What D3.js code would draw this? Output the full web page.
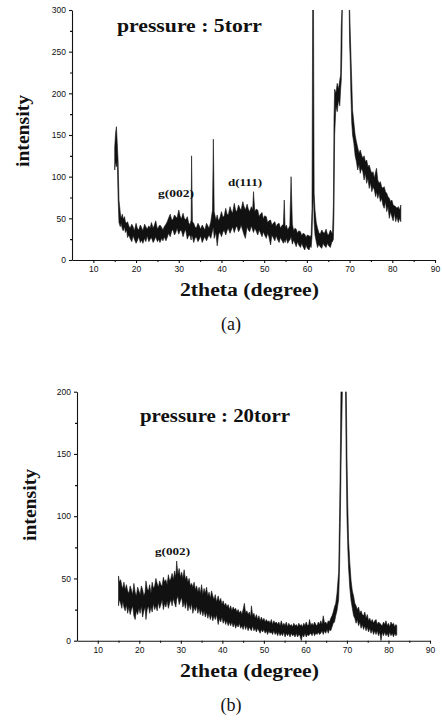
<!DOCTYPE html>
<html>
<head>
<meta charset="utf-8">
<script src="https://cdn.jsdelivr.net/npm/d3@7"></script>
<style>
  body { margin: 0; background: #fff; }
  svg { display: block; }
  .tick text { font-family: "Liberation Sans", Arial, sans-serif; font-size: 8.5px; fill: #111; }
  .domain, .tick line { stroke: #111; stroke-width: 1.1; }
  .bold { font-family: "Liberation Serif", "Times New Roman", serif; font-weight: bold; fill: #111; }
  .plain { font-family: "Liberation Serif", "Times New Roman", serif; fill: #111; }
</style>
</head>
<body>
<svg id="fig" width="442" height="724"></svg>
<script>
// ---- data: [2theta, lower edge, upper edge] of the noisy trace ----
const traceA = [
  [15.0,108,135],[15.2,118,152],[15.4,112,160],[15.6,120,140],[15.8,74,118],[16.0,45,72],
  [16.3,40,57],[16.5,44,50],[16.8,37,55],[17.0,35,49],[17.3,40,52],[17.5,33,46],[17.8,36,44],
  [18.0,27,46],[18.3,30,41],[18.6,26,38],[19.0,22,43],[19.3,29,40],[19.6,25,35],[20.0,20,44],
  [20.3,23,38],[20.6,28,36],[21.0,21,42],[21.3,24,39],[21.6,20,35],[22.0,26,43],[22.3,22,40],
  [22.6,29,37],[23.0,22,41],[23.3,25,38],[23.6,27,45],[24.0,21,38],[24.3,24,42],[24.6,28,47],
  [25.0,22,37],[25.3,25,40],[25.6,21,42],[26.0,26,39],[26.3,23,36],[26.6,28,40],[27.0,23,43],
  [27.3,27,46],[27.6,32,50],[28.0,28,55],[28.3,34,49],[28.6,37,48],[29.0,30,54],[29.3,33,52],
  [29.6,38,50],[30.0,31,60],[30.3,35,53],[30.6,36,49],[31.0,28,56],[31.3,33,50],[31.6,37,48],
  [32.0,25,52],[32.3,29,45],[32.6,30,42],[32.9,24,48],[33.0,30,125],[33.2,28,46],[33.5,21,44],
  [33.8,26,40],[34.1,28,38],[34.5,22,44],[34.8,25,41],[35.1,29,37],[35.5,21,42],[35.8,25,39],
  [36.1,28,36],[36.5,23,44],[36.8,27,41],[37.1,30,38],[37.5,26,46],[37.9,35,60],[38.1,40,145],
  [38.3,26,58],[38.7,33,48],[39.0,17,54],[39.3,30,47],[39.6,34,50],[40.0,28,58],[40.3,33,52],
  [40.6,36,52],[41.0,30,62],[41.3,35,55],[41.6,38,54],[42.0,32,64],[42.3,36,59],[42.6,40,56],
  [43.0,33,68],[43.3,38,60],[43.6,41,58],[44.0,34,66],[44.3,37,62],[44.6,42,60],[45.0,35,70],
  [45.3,30,64],[45.6,26,60],[46.0,40,67],[46.3,36,61],[46.6,34,58],[47.0,41,64],[47.3,36,60],
  [47.5,33,82],[47.8,38,58],[48.1,35,61],[48.5,30,60],[48.8,36,52],[49.1,33,55],[49.5,28,57],
  [49.8,34,49],[50.1,30,53],[50.5,26,52],[50.8,32,45],[51.1,28,47],[51.5,18,48],[51.8,30,42],
  [52.1,27,44],[52.5,23,46],[52.8,29,40],[53.1,25,43],[53.5,21,44],[53.8,27,38],[54.1,24,41],
  [54.5,20,43],[54.7,24,72],[54.9,21,39],[55.2,26,42],[55.5,20,36],[55.8,23,39],[56.0,24,41],
  [56.3,28,100],[56.6,19,43],[56.9,24,35],[57.2,20,38],[57.5,16,37],[57.8,22,32],[58.1,18,35],
  [58.5,15,34],[58.8,20,29],[59.1,16,32],[59.5,12,31],[59.8,18,27],[60.1,14,30],[60.5,12,29],
  [60.8,17,28],[61.0,15,30],[61.2,28,62],[61.35,60,300],[61.55,80,300],[61.7,45,80],[61.9,30,60],
  [62.2,22,45],[62.5,15,38],[62.8,19,33],[63.1,16,31],[63.5,14,36],[63.8,20,33],[64.1,17,32],
  [64.5,15,37],[64.8,20,31],[65.1,17,30],[65.5,15,36],[65.8,21,33],[66.0,22,32],
  [66.2,25,65],[66.35,60,170],[66.5,150,205],[66.8,185,200],[67.1,178,212],[67.4,192,205],
  [67.7,185,216],[67.9,205,222],[68.05,215,280],[68.2,250,300],[68.3,305,330],[69.9,305,330],
  [70.0,260,305],[70.15,240,275],[70.3,200,248],[70.5,165,215],[70.7,150,180],[71.0,140,165],
  [71.3,125,150],[71.6,118,142],[71.9,108,135],[72.2,115,128],[72.5,104,132],[72.8,110,126],
  [73.1,106,122],[73.4,96,125],[73.7,104,118],[74.0,92,120],[74.3,98,112],[74.6,86,114],
  [74.9,93,108],[75.2,82,104],[75.5,88,106],[75.8,84,98],[76.1,76,106],[76.3,82,110],
  [76.6,74,96],[76.9,80,92],[77.2,70,94],[77.5,74,88],[77.8,66,86],[78.1,62,88],[78.4,70,82],
  [78.7,58,80],[79.0,64,76],[79.3,50,74],[79.6,58,70],[79.9,52,72],[80.2,47,66],[80.5,56,65],
  [80.8,46,64],[81.1,52,62],[81.4,45,64],[81.7,50,60],[82.0,46,66]
];

const traceB = [
  [15.0,28,52],[15.2,33,47],[15.5,30,49],[15.8,26,44],[16.0,32,42],[16.3,27,47],[16.6,24,41],
  [16.9,29,45],[17.2,22,40],[17.5,27,38],[17.8,21,44],[18.1,25,41],[18.4,28,37],[18.7,20,46],
  [19.0,17,39],[19.3,24,36],[19.6,21,43],[19.9,26,40],[20.2,22,37],[20.5,28,44],[20.8,19,41],
  [21.1,24,36],[21.4,27,39],[21.6,17,48],[21.9,25,42],[22.2,28,40],[22.5,22,45],[22.8,27,38],
  [23.1,23,47],[23.4,30,42],[23.7,25,44],[24.0,28,50],[24.3,24,46],[24.6,31,43],[24.9,26,48],
  [25.2,29,45],[25.5,33,44],[25.8,25,51],[26.1,30,47],[26.4,27,49],[26.7,32,45],[27.0,26,53],
  [27.3,30,48],[27.6,33,50],[27.9,28,54],[28.2,34,49],[28.5,30,56],[28.8,27,51],[29.0,33,64],
  [29.3,36,53],[29.6,29,58],[29.9,32,51],[30.2,35,55],[30.5,27,50],[30.8,31,57],[31.1,26,49],
  [31.4,32,52],[31.7,24,47],[32.0,29,50],[32.3,25,44],[32.6,30,46],[32.9,22,43],[33.2,27,47],
  [33.5,24,41],[33.8,28,44],[34.1,22,39],[34.4,26,43],[34.7,21,38],[35.0,25,45],[35.3,20,37],
  [35.6,24,42],[35.9,19,38],[36.2,23,43],[36.5,18,36],[36.8,22,39],[37.1,17,34],[37.4,21,40],
  [37.7,16,36],[38.0,20,33],[38.3,17,37],[38.6,21,31],[39.0,13,36],[39.3,18,31],[39.6,15,34],
  [39.9,19,29],[40.2,14,32],[40.5,17,28],[40.8,13,30],[41.1,16,27],[41.4,12,29],[41.7,15,25],
  [42.0,12,28],[42.3,15,24],[42.6,11,27],[42.9,14,25],[43.2,10,26],[43.5,13,23],[43.8,11,25],
  [44.1,14,22],[44.4,10,24],[44.7,12,21],[45.0,9,25],[45.3,13,30],[45.6,9,22],[45.9,12,24],
  [46.2,8,21],[46.5,11,23],[46.8,9,19],[47.0,8,28],[47.3,12,20],[47.6,8,22],[47.9,10,18],
  [48.2,7,21],[48.5,10,17],[48.8,8,20],[49.1,6,16],[49.4,9,19],[49.7,7,16],[50.0,9,18],
  [50.3,6,15],[50.6,8,17],[50.9,5,15],[51.2,8,16],[51.5,6,14],[51.8,7,17],[52.1,5,13],
  [52.4,8,16],[52.7,5,14],[53.0,7,15],[53.3,4,13],[53.6,7,15],[53.9,4,12],[54.2,6,16],
  [54.5,4,12],[54.8,7,14],[55.1,3,12],[55.4,6,15],[55.7,4,11],[56.0,6,14],[56.3,3,12],
  [56.6,6,13],[56.9,4,11],[57.2,5,14],[57.5,3,12],[57.8,6,13],[58.1,3,11],[58.4,5,14],
  [58.7,4,12],[59.0,0,13],[59.3,5,11],[59.6,3,14],[59.9,6,12],[60.2,3,15],[60.5,5,12],
  [60.8,4,13],[61.0,5,17],[61.3,6,12],[61.6,4,14],[61.9,7,12],[62.2,4,15],[62.5,6,13],
  [62.8,5,12],[63.1,7,15],[63.4,5,13],[63.7,6,16],[64.0,8,13],[64.3,5,20],[64.6,8,14],
  [64.9,6,15],[65.2,9,13],[65.5,6,16],[65.8,9,15],[66.1,8,18],[66.4,11,20],[66.7,14,23],
  [67.0,15,27],[67.3,20,30],[67.6,24,38],[68.0,33,55],[68.2,55,95],[68.4,95,145],
  [68.6,145,215],[69.0,220,240],[69.6,220,240],[69.8,150,215],[70.0,100,150],[70.2,75,108],
  [70.4,58,80],[70.7,42,62],[71.0,32,48],[71.3,26,40],[71.6,20,36],[71.9,18,30],[72.2,14,28],
  [72.5,17,25],[72.8,12,27],[73.1,15,22],[73.4,10,24],[73.7,13,21],[74.0,9,20],[74.3,12,23],
  [74.6,8,18],[74.9,11,21],[75.2,7,16],[75.5,10,18],[75.8,6,15],[76.1,9,17],[76.4,5,14],
  [76.7,8,16],[77.0,5,17],[77.3,8,13],[77.6,4,15],[77.9,7,14],[78.2,0,13],[78.5,7,12],
  [78.8,4,15],[79.1,7,13],[79.4,4,16],[79.7,6,12],[80.0,3,14],[80.3,7,11],[80.6,4,15],
  [80.9,6,13],[81.2,3,14],[81.5,6,11],[81.8,4,13],[82.0,5,12]
];

const xTicks = [10, 20, 30, 40, 50, 60, 70, 80, 90];
const xMinor = [15, 25, 35, 45, 55, 65, 75, 85];
const yTicksA = [0, 50, 100, 150, 200, 250, 300];
const yMinorA = [25, 75, 125, 175, 225, 275];
const yTicksB = [0, 50, 100, 150, 200];
const yMinorB = [25, 75, 125, 175];

const svg = d3.select("#fig");

function add_text (g, cls, size, w, str) {
    return g.append("text").classed(cls, true)
        .attr("font-size", size)
        .attr("textLength", w)
        .attr("lengthAdjust", "spacingAndGlyphs")
        .text(str);
}

function draw_panel (cfg) {
    const x = d3.scaleLinear().domain([5, 90]).range([cfg.left, cfg.right]);
    const y = d3.scaleLinear().domain([0, cfg.ymax]).range([cfg.bottom, cfg.top]);
    const g = svg.append("g");

    g.append("clipPath").attr("id", cfg.id + "clip")
        .append("rect")
        .attr("x", cfg.left).attr("y", cfg.top)
        .attr("width", cfg.right - cfg.left).attr("height", cfg.bottom - cfg.top);

    const band = d3.area()
        .x(d => x(d[0]))
        .y0(d => y(d[1]))
        .y1(d => y(d[2]));

    g.append("path")
        .datum(cfg.trace)
        .attr("clip-path", `url(#${cfg.id}clip)`)
        .attr("d", band)
        .attr("fill", "#111")
        .attr("stroke", "#111")
        .attr("stroke-width", 0.6)
        .attr("stroke-linejoin", "miter");

    // axes
    g.append("g")
        .attr("transform", `translate(${cfg.left},0)`)
        .call(d3.axisLeft(y).tickValues(cfg.yTicks).tickSize(3).tickPadding(3).tickSizeOuter(0));
    g.append("g")
        .attr("transform", `translate(${cfg.left},0)`)
        .call(d3.axisLeft(y).tickValues(cfg.yMinor).tickSize(2).tickFormat("").tickSizeOuter(0))
        .select(".domain").remove();
    g.append("g")
        .attr("transform", `translate(0,${cfg.bottom})`)
        .call(d3.axisBottom(x).tickValues(xTicks).tickSize(3).tickPadding(3).tickSizeOuter(0));
    g.append("g")
        .attr("transform", `translate(0,${cfg.bottom})`)
        .call(d3.axisBottom(x).tickValues(xMinor).tickSize(2).tickFormat("").tickSizeOuter(0))
        .select(".domain").remove();

    // texts
    add_text(g, "bold", 18, cfg.titleW, cfg.title)
        .attr("x", cfg.titleX).attr("y", cfg.titleY);
    add_text(g, "bold", 18, 139, "2theta (degree)")
        .attr("x", 180).attr("y", cfg.bottom + 36);
    add_text(g, "bold", 18, 72, "intensity")
        .attr("transform", `translate(${cfg.ylabX},${cfg.ylabY}) rotate(-90)`)
        .attr("text-anchor", "middle");
    g.append("text").classed("plain", true)
        .attr("x", 231).attr("y", cfg.bottom + 70)
        .attr("text-anchor", "middle")
        .attr("font-size", 18)
        .text(cfg.tag);

    cfg.notes.forEach(n => {
        add_text(g, "bold", 11, n.w, n.text).attr("x", n.x).attr("y", n.y);
    });
}

draw_panel({
    id: "a", left: 72, right: 435, top: 10, bottom: 260, ymax: 300,
    trace: traceA, yTicks: yTicksA, yMinor: yMinorA,
    title: "pressure : 5torr", titleX: 117, titleY: 32, titleW: 145,
    ylabX: 29, ylabY: 131, tag: "(a)",
    notes: [{ text: "g(002)", x: 158, y: 197, w: 36 }, { text: "d(111)", x: 228, y: 186, w: 34 }]
});

draw_panel({
    id: "b", left: 77, right: 430, top: 391.7, bottom: 640.7, ymax: 200,
    trace: traceB, yTicks: yTicksB, yMinor: yMinorB,
    title: "pressure : 20torr", titleX: 140, titleY: 422, titleW: 150,
    ylabX: 36, ylabY: 505, tag: "(b)",
    notes: [{ text: "g(002)", x: 155, y: 555, w: 35 }]
});
</script>
</body>
</html>
